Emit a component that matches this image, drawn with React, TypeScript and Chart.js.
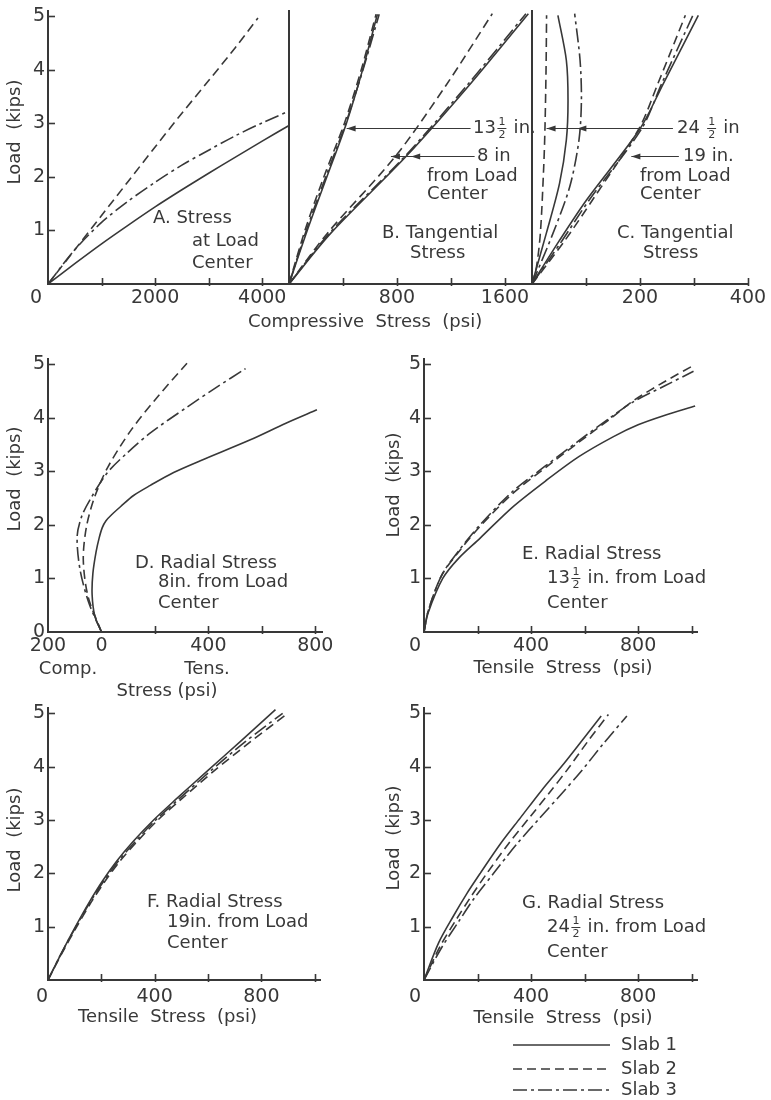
import React, { useEffect, useRef } from "react";
import { Chart, registerables } from "chart.js";
Chart.register(...registerables);

const PAGE_W = 771;
const PAGE_H = 1100;
const FONT = "'DejaVu Sans', 'Liberation Sans', sans-serif";
const INK = "#383838";
const TEXT_SIZE = 18;
const TICK_SIZE = 19;

const SLABS = ["Slab 1", "Slab 2", "Slab 3"];
const STYLES = ["solid", "dashed", "dashdot"];
const DASHES: Record<string, number[]> = { solid: [], dashed: [9, 5], dashdot: [14, 4, 3, 4] };

// ---------------- Panel A : stress at load center (compressive, psi) ----------------
const A_S1_STRESS = [0, 500, 1000, 1500, 2000, 2500, 3000, 3500, 4000, 4500];
const A_S1_LOAD = [0, 0.38, 0.75, 1.1, 1.44, 1.76, 2.07, 2.37, 2.67, 2.96];
const A_S2_STRESS = [0, 500, 1000, 1500, 2000, 2500, 3000, 3500, 3920];
const A_S2_LOAD = [0, 0.64, 1.28, 1.92, 2.56, 3.19, 3.8, 4.42, 4.97];
const A_S3_STRESS = [0, 500, 1000, 1500, 2000, 2500, 3000, 3500, 4000, 4500];
const A_S3_LOAD = [0, 0.64, 1.15, 1.55, 1.9, 2.22, 2.5, 2.77, 3.01, 3.23];

// ---------------- Panel B : tangential stress, 13 1/2 in and 8 in ----------------
const B13_LOAD = [0, 1, 2, 3, 4, 5.04];
const B13_S1_STRESS = [0, 135, 280, 425, 545, 655];
const B13_S2_STRESS = [0, 118, 258, 410, 535, 645];
const B13_S3_STRESS = [0, 128, 272, 420, 548, 668];
const B8_LOAD = [0, 0.95, 2.39, 3.7, 5.05];
const B8_S1_STRESS = [0, 310, 870, 1330, 1773];
const B8_S2_STRESS = [0, 285, 790, 1160, 1506];
const B8_S3_STRESS = [0, 300, 860, 1315, 1755];

// ---------------- Panel C : tangential stress, 24 1/2 in and 19 in ----------------
const C24_S1_LOAD = [0, 0.95, 1.88, 2.69, 3.43, 4.18, 5.02];
const C24_S1_STRESS = [0, 26.6, 51, 63.6, 66.7, 63.6, 48];
const C24_S2_LOAD = [0, 0.3, 0.95, 2.19, 2.9, 4.0, 5.02];
const C24_S2_STRESS = [0, 8, 15.5, 21.7, 24, 26, 27];
const C24_S3_LOAD = [0, 0.95, 1.82, 2.69, 3.43, 4.18, 5.05];
const C24_S3_STRESS = [0, 39, 70, 87, 91.5, 89, 79];
const C19_LOAD = [0, 0.8, 1.57, 2.9, 3.74, 5.02];
const C19_S1_STRESS = [0, 50, 101, 200, 243, 308];
const C19_S2_STRESS = [0, 60, 112, 198, 233, 284];
const C19_S3_STRESS = [0, 55, 106, 203, 240, 298];

// ---------------- Panel D : radial stress 8 in (negative = compression) ----------------
const D_S1_LOAD = [0, 0.3, 0.7, 1.1, 1.5, 1.75, 1.95, 2.08, 2.2, 2.34, 2.55, 2.74, 2.98, 3.2, 3.59, 3.9, 4.15];
const D_S1_STRESS = [0, -25, -35, -32, -20, -9, 3, 17, 40, 71, 120, 183, 270, 370, 557, 690, 806];
const D_S2_LOAD = [0, 0.66, 1.35, 1.97, 2.53, 3.09, 3.78, 4.4, 5.02];
const D_S2_STRESS = [0, -50, -68, -56, -25, 25, 112, 211, 320];
const D_S3_LOAD = [0, 0.54, 1.16, 1.78, 2.16, 2.47, 2.97, 3.34, 3.72, 4.2, 4.57, 4.92];
const D_S3_STRESS = [0, -47, -80, -91, -74, -43, 21, 95, 183, 320, 430, 539];

// ---------------- Panel E : radial stress 13 1/2 in ----------------
const E_STRESS_A = [0, 15, 70, 130, 209, 330, 459, 580, 708, 800, 895, 1013];
const E_S1_LOAD = [0, 0.35, 1.0, 1.38, 1.75, 2.33, 2.84, 3.28, 3.65, 3.87, 4.04, 4.22];
const E_STRESS_B = [0, 15, 65, 130, 209, 330, 459, 580, 695, 782, 900, 1007];
const E_S2_LOAD = [0, 0.38, 1.05, 1.5, 1.97, 2.58, 3.09, 3.55, 3.98, 4.32, 4.68, 4.98];
const E_S3_LOAD = [0, 0.38, 1.05, 1.52, 2.0, 2.62, 3.12, 3.58, 4.0, 4.3, 4.6, 4.87];

// ---------------- Panel F : radial stress 19 in ----------------
const F_LOAD = [0, 0.5, 1.0, 1.46, 1.86, 2.23, 2.6, 3.0, 3.39, 3.93, 4.49, 5.07];
const F_S1_STRESS = [0, 50, 103, 155, 205, 258, 320, 396, 480, 600, 725, 853];
const F_S2_LOAD = [0, 0.5, 1.0, 1.46, 1.86, 2.23, 2.6, 3.0, 3.39, 3.93, 4.45, 4.97];
const F_S2_STRESS = [0, 52, 108, 162, 215, 270, 335, 412, 500, 625, 755, 891];
const F_S3_LOAD = [0, 0.5, 1.0, 1.46, 1.86, 2.23, 2.6, 3.0, 3.39, 3.93, 4.47, 5.0];
const F_S3_STRESS = [0, 50, 105, 158, 210, 264, 328, 404, 490, 612, 740, 880];

// ---------------- Panel G : radial stress 24 1/2 in ----------------
const G_S1_LOAD = [0, 0.7, 1.2, 1.62, 2.0, 2.55, 3.04, 3.56, 4.06, 4.52, 4.95];
const G_S1_STRESS = [0, 55, 110, 160, 210, 285, 360, 440, 523, 595, 662];
const G_S2_LOAD = [0, 0.63, 1.13, 1.56, 2.0, 2.55, 3.07, 3.52, 3.94, 4.46, 4.98];
const G_S2_STRESS = [0, 60, 120, 175, 235, 315, 398, 470, 535, 610, 689];
const G_S3_LOAD = [0, 0.6, 1.1, 1.55, 2.0, 2.54, 3.05, 3.47, 3.9, 4.43, 4.95];
const G_S3_STRESS = [0, 65, 130, 190, 260, 345, 435, 510, 585, 670, 758];

// ---------------- ticks ----------------
const LOAD_TICKS = [1, 2, 3, 4, 5];
const LOAD_TICKS_D = [0, 1, 2, 3, 4, 5];
const A_X_MARKS = [1000, 2000, 3000, 4000];
const A_X_LABELS = [0, 2000, 4000];
const B_X_MARKS = [400, 800, 1200, 1600];
const B_X_LABELS = [800, 1600];
const C_X_MARKS = [100, 200, 300, 400];
const C_X_LABELS = [200, 400];
const D_X_MARKS = [200, 400, 600, 800];
const D_X_LABELS = [-200, 0, 400, 800];
const T_X_MARKS = [200, 400, 600, 800, 1000];
const T_X_LABELS = [0, 400, 800];

type Seg = string | [string, string];
type Txt = { segs: Seg[]; x: number; y: number; align?: "left" | "center"; rot?: boolean };
type Arrow = { y: number; from: number; to: number; heads: number[] };
type Series = { stress: number[]; load: number[]; slab: number };
type Panel = {
  id: string;
  area: { l: number; t: number; r: number; b: number };
  xMin: number; xMax: number; yMax: number;
  xMarks: number[]; xLabels: number[]; zeroShift: number; xPad: number;
  yMarks: number[]; yLabels: number[]; showY: boolean;
  series: Series[];
  texts: Txt[];
  arrows?: Arrow[];
  legend?: boolean;
};

const S = (stress: number[], load: number[], slab: number): Series => ({ stress, load, slab });
const T = (segs: Seg[], x: number, y: number, align: "left" | "center" = "left", rot = false): Txt => ({ segs, x, y, align, rot });
const LOAD_TITLE = "Load  (kips)";

const PANELS: Panel[] = [
  {
    id: "A", area: { l: 48, t: 11, r: 289, b: 284 }, xMin: 0, xMax: 4500, yMax: 5.1,
    xMarks: A_X_MARKS, xLabels: A_X_LABELS, zeroShift: 4, xPad: 3,
    yMarks: LOAD_TICKS, yLabels: LOAD_TICKS, showY: true,
    series: [S(A_S1_STRESS, A_S1_LOAD, 0), S(A_S2_STRESS, A_S2_LOAD, 1), S(A_S3_STRESS, A_S3_LOAD, 2)],
    texts: [
      T([LOAD_TITLE], 15, 132, "center", true),
      T(["A. Stress"], 153, 218), T(["at Load"], 192, 241), T(["Center"], 192, 263),
      T(["Compressive  Stress  (psi)"], 248, 322),
    ],
  },
  {
    id: "B", area: { l: 289, t: 11, r: 532, b: 284 }, xMin: 0, xMax: 1800, yMax: 5.1,
    xMarks: B_X_MARKS, xLabels: B_X_LABELS, zeroShift: 0, xPad: 3,
    yMarks: [], yLabels: LOAD_TICKS, showY: false,
    series: [
      S(B13_S1_STRESS, B13_LOAD, 0), S(B13_S2_STRESS, B13_LOAD, 1), S(B13_S3_STRESS, B13_LOAD, 2),
      S(B8_S1_STRESS, B8_LOAD, 0), S(B8_S2_STRESS, B8_LOAD, 1), S(B8_S3_STRESS, B8_LOAD, 2),
    ],
    arrows: [
      { y: 2.91, from: 1345, to: 427, heads: [427] },
      { y: 2.39, from: 1375, to: 755, heads: [755, 905] },
    ],
    texts: [
      T(["B. Tangential"], 382, 233), T(["Stress"], 410, 253),
      T(["13", ["1", "2"], " in."], 473, 128),
      T(["8 in"], 477, 156), T(["from Load"], 427, 176), T(["Center"], 427, 194),
    ],
  },
  {
    id: "C", area: { l: 532, t: 11, r: 748, b: 284 }, xMin: 0, xMax: 400, yMax: 5.1,
    xMarks: C_X_MARKS, xLabels: C_X_LABELS, zeroShift: 0, xPad: 3,
    yMarks: [], yLabels: LOAD_TICKS, showY: false,
    series: [
      S(C24_S1_STRESS, C24_S1_LOAD, 0), S(C24_S2_STRESS, C24_S2_LOAD, 1), S(C24_S3_STRESS, C24_S3_LOAD, 2),
      S(C19_S1_STRESS, C19_LOAD, 0), S(C19_S2_STRESS, C19_LOAD, 1), S(C19_S3_STRESS, C19_LOAD, 2),
    ],
    arrows: [
      { y: 2.91, from: 261, to: 27, heads: [27, 84] },
      { y: 2.39, from: 272, to: 184, heads: [184] },
    ],
    texts: [
      T(["C. Tangential"], 617, 233), T(["Stress"], 643, 253),
      T(["24 ", ["1", "2"], " in"], 677, 128),
      T(["19 in."], 683, 156), T(["from Load"], 640, 176), T(["Center"], 640, 194),
    ],
  },
  {
    id: "D", area: { l: 48, t: 359, r: 322, b: 632 }, xMin: -200, xMax: 825, yMax: 5.1,
    xMarks: D_X_MARKS, xLabels: D_X_LABELS, zeroShift: 0, xPad: 3,
    yMarks: LOAD_TICKS, yLabels: LOAD_TICKS_D, showY: true,
    series: [S(D_S1_STRESS, D_S1_LOAD, 0), S(D_S2_STRESS, D_S2_LOAD, 1), S(D_S3_STRESS, D_S3_LOAD, 2)],
    texts: [
      T([LOAD_TITLE], 15, 479, "center", true),
      T(["D. Radial Stress"], 135, 563), T(["8in. from Load"], 158, 582), T(["Center"], 158, 603),
      T(["Comp."], 68, 669, "center"), T(["Tens."], 207, 669, "center"), T(["Stress (psi)"], 167, 691, "center"),
    ],
  },
  {
    id: "E", area: { l: 424, t: 359, r: 697, b: 632 }, xMin: 0, xMax: 1020, yMax: 5.1,
    xMarks: T_X_MARKS, xLabels: T_X_LABELS, zeroShift: 3, xPad: 3,
    yMarks: LOAD_TICKS, yLabels: LOAD_TICKS, showY: true,
    series: [S(E_STRESS_A, E_S1_LOAD, 0), S(E_STRESS_B, E_S2_LOAD, 1), S(E_STRESS_B, E_S3_LOAD, 2)],
    texts: [
      T([LOAD_TITLE], 394, 485, "center", true),
      T(["E. Radial Stress"], 522, 554), T(["13", ["1", "2"], " in. from Load"], 547, 578), T(["Center"], 547, 603),
      T(["Tensile  Stress  (psi)"], 563, 668, "center"),
    ],
  },
  {
    id: "F", area: { l: 48, t: 708, r: 320, b: 980 }, xMin: 0, xMax: 1020, yMax: 5.1,
    xMarks: T_X_MARKS, xLabels: T_X_LABELS, zeroShift: 2, xPad: 6,
    yMarks: LOAD_TICKS, yLabels: LOAD_TICKS, showY: true,
    series: [S(F_S1_STRESS, F_LOAD, 0), S(F_S2_STRESS, F_S2_LOAD, 1), S(F_S3_STRESS, F_S3_LOAD, 2)],
    texts: [
      T([LOAD_TITLE], 15, 840, "center", true),
      T(["F. Radial Stress"], 147, 902), T(["19in. from Load"], 167, 922), T(["Center"], 167, 943),
      T(["Tensile  Stress  (psi)"], 78, 1017),
    ],
  },
  {
    id: "G", area: { l: 424, t: 708, r: 697, b: 980 }, xMin: 0, xMax: 1020, yMax: 5.1,
    xMarks: T_X_MARKS, xLabels: T_X_LABELS, zeroShift: 3, xPad: 6,
    yMarks: LOAD_TICKS, yLabels: LOAD_TICKS, showY: true,
    series: [S(G_S1_STRESS, G_S1_LOAD, 0), S(G_S2_STRESS, G_S2_LOAD, 1), S(G_S3_STRESS, G_S3_LOAD, 2)],
    texts: [
      T([LOAD_TITLE], 394, 838, "center", true),
      T(["G. Radial Stress"], 522, 903), T(["24", ["1", "2"], " in. from Load"], 547, 927), T(["Center"], 547, 952),
      T(["Tensile  Stress  (psi)"], 563, 1018, "center"),
    ],
    legend: true,
  },
];

const MAIN_FONT = `${TEXT_SIZE}px ${FONT}`;
const FRAC_FONT = `11px ${FONT}`;

function segWidth(ctx: CanvasRenderingContext2D, s: Seg): number {
  if (typeof s === "string") {
    ctx.font = MAIN_FONT;
    return ctx.measureText(s).width;
  }
  ctx.font = FRAC_FONT;
  return Math.max(ctx.measureText(s[0]).width, ctx.measureText(s[1]).width) + 5;
}

function drawText(ctx: CanvasRenderingContext2D, t: Txt) {
  ctx.save();
  ctx.translate(t.x, t.y);
  if (t.rot) ctx.rotate(-Math.PI / 2);
  ctx.textBaseline = "middle";
  ctx.fillStyle = INK;
  ctx.strokeStyle = INK;
  const widths = t.segs.map((s) => segWidth(ctx, s));
  const total = widths.reduce((a, b) => a + b, 0);
  let cx = t.align === "center" ? -total / 2 : 0;
  t.segs.forEach((s, i) => {
    const w = widths[i];
    if (typeof s === "string") {
      ctx.font = MAIN_FONT;
      ctx.textAlign = "left";
      ctx.fillText(s, cx, 0);
    } else {
      ctx.font = FRAC_FONT;
      ctx.textAlign = "center";
      ctx.fillText(s[0], cx + w / 2, -6);
      ctx.fillText(s[1], cx + w / 2, 7);
      ctx.lineWidth = 1;
      ctx.beginPath();
      ctx.moveTo(cx + 1.5, 0.5);
      ctx.lineTo(cx + w - 1.5, 0.5);
      ctx.stroke();
    }
    cx += w;
  });
  ctx.restore();
}

const LEGEND_X1 = 513;
const LEGEND_X2 = 610;
const LEGEND_TX = 621;
const LEGEND_YS = [1045, 1069, 1090];

function drawLegend(ctx: CanvasRenderingContext2D) {
  ctx.save();
  SLABS.forEach((name, i) => {
    const y = LEGEND_YS[i];
    ctx.strokeStyle = INK;
    ctx.lineWidth = 1.6;
    ctx.setLineDash(DASHES[STYLES[i]]);
    ctx.beginPath();
    ctx.moveTo(LEGEND_X1, y);
    ctx.lineTo(LEGEND_X2, y);
    ctx.stroke();
    ctx.setLineDash([]);
    ctx.font = MAIN_FONT;
    ctx.fillStyle = INK;
    ctx.textAlign = "left";
    ctx.textBaseline = "middle";
    ctx.fillText(name, LEGEND_TX, y);
  });
  ctx.restore();
}

function overlayPlugin(p: Panel) {
  return {
    id: "overlay" + p.id,
    afterDraw(chart: any) {
      const ctx: CanvasRenderingContext2D = chart.ctx;
      const xs = chart.scales.x;
      const ys = chart.scales.y;
      const { left, bottom } = chart.chartArea;
      ctx.save();
      ctx.strokeStyle = INK;
      ctx.fillStyle = INK;
      ctx.setLineDash([]);
      ctx.lineWidth = 1.6;
      p.xMarks.forEach((v) => {
        const px = Math.round(xs.getPixelForValue(v)) + 0.5;
        ctx.beginPath();
        ctx.moveTo(px, bottom + 2);
        ctx.lineTo(px, bottom - 6);
        ctx.stroke();
      });
      p.yMarks.forEach((v) => {
        const py = Math.round(ys.getPixelForValue(v)) + 0.5;
        ctx.beginPath();
        ctx.moveTo(left, py);
        ctx.lineTo(left + 7, py);
        ctx.stroke();
      });
      (p.arrows || []).forEach((a) => {
        const py = Math.round(ys.getPixelForValue(a.y)) + 0.5;
        const x1 = xs.getPixelForValue(a.from);
        const x2 = xs.getPixelForValue(a.to);
        ctx.lineWidth = 1.2;
        ctx.beginPath();
        ctx.moveTo(x1, py);
        ctx.lineTo(x2, py);
        ctx.stroke();
        a.heads.forEach((h) => {
          const hx = xs.getPixelForValue(h);
          ctx.beginPath();
          ctx.moveTo(hx, py);
          ctx.lineTo(hx + 9, py - 3);
          ctx.lineTo(hx + 9, py + 3);
          ctx.closePath();
          ctx.fill();
        });
      });
      p.texts.forEach((t) => drawText(ctx, t));
      if (p.legend) drawLegend(ctx);
      ctx.restore();
    },
  };
}

const LM = 40;
const BM = 40;

function buildConfig(p: Panel): any {
  const { area } = p;
  const xLabelText = (v: number) => {
    if (!p.xLabels.includes(v)) return "";
    const s = String(Math.abs(v));
    return v === 0 && p.zeroShift > 0 ? s + " ".repeat(p.zeroShift) : s;
  };
  return {
    type: "line",
    data: {
      datasets: p.series.map((s) => ({
        label: SLABS[s.slab],
        data: s.stress.map((x, i) => ({ x, y: s.load[i] })),
        borderColor: INK,
        borderWidth: 1.6,
        borderDash: DASHES[STYLES[s.slab]],
        pointRadius: 0,
        tension: 0.3,
        fill: false,
      })),
    },
    options: {
      responsive: false,
      animation: false,
      events: [],
      layout: {
        padding: { left: area.l - LM, top: area.t, right: PAGE_W - area.r, bottom: PAGE_H - area.b - BM },
      },
      plugins: { legend: { display: false }, tooltip: { enabled: false }, title: { display: false } },
      scales: {
        x: {
          type: "linear",
          position: "bottom",
          min: p.xMin,
          max: p.xMax,
          grid: { display: false, drawTicks: false },
          border: { display: true, color: INK, width: 2 },
          ticks: {
            autoSkip: false,
            maxRotation: 0,
            minRotation: 0,
            padding: p.xPad,
            color: INK,
            font: { family: FONT, size: TICK_SIZE },
            callback: (v: number) => xLabelText(v),
          },
          afterBuildTicks: (s: any) => {
            s.ticks = p.xLabels.map((v) => ({ value: v }));
          },
          afterFit: (s: any) => {
            s.height = BM;
            s.paddingLeft = 0;
            s.paddingRight = 0;
          },
        },
        y: {
          type: "linear",
          position: "left",
          min: 0,
          max: p.yMax,
          grid: { display: false, drawTicks: false },
          border: { display: true, color: INK, width: 2 },
          ticks: {
            display: p.showY,
            autoSkip: false,
            padding: 3,
            color: INK,
            font: { family: FONT, size: TICK_SIZE },
            callback: (v: number) => String(v),
          },
          afterBuildTicks: (s: any) => {
            s.ticks = p.yLabels.map((v) => ({ value: v }));
          },
          afterFit: (s: any) => {
            s.width = LM;
            s.paddingTop = 0;
            s.paddingBottom = 0;
          },
        },
      },
    },
    plugins: [overlayPlugin(p)],
  };
}

function PanelChart({ panel }: { panel: Panel }) {
  const ref = useRef<HTMLCanvasElement>(null);
  useEffect(() => {
    if (!ref.current) return;
    const chart = new Chart(ref.current, buildConfig(panel));
    return () => chart.destroy();
  }, [panel]);
  return (
    <canvas
      ref={ref}
      width={PAGE_W}
      height={PAGE_H}
      style={{ position: "absolute", left: 0, top: 0, width: PAGE_W, height: PAGE_H }}
    />
  );
}

export default function App() {
  return (
    <div style={{ position: "absolute", left: 0, top: 0, width: PAGE_W, height: PAGE_H, background: "#fff", overflow: "hidden" }}>
      {PANELS.map((p) => (
        <PanelChart key={p.id} panel={p} />
      ))}
    </div>
  );
}
